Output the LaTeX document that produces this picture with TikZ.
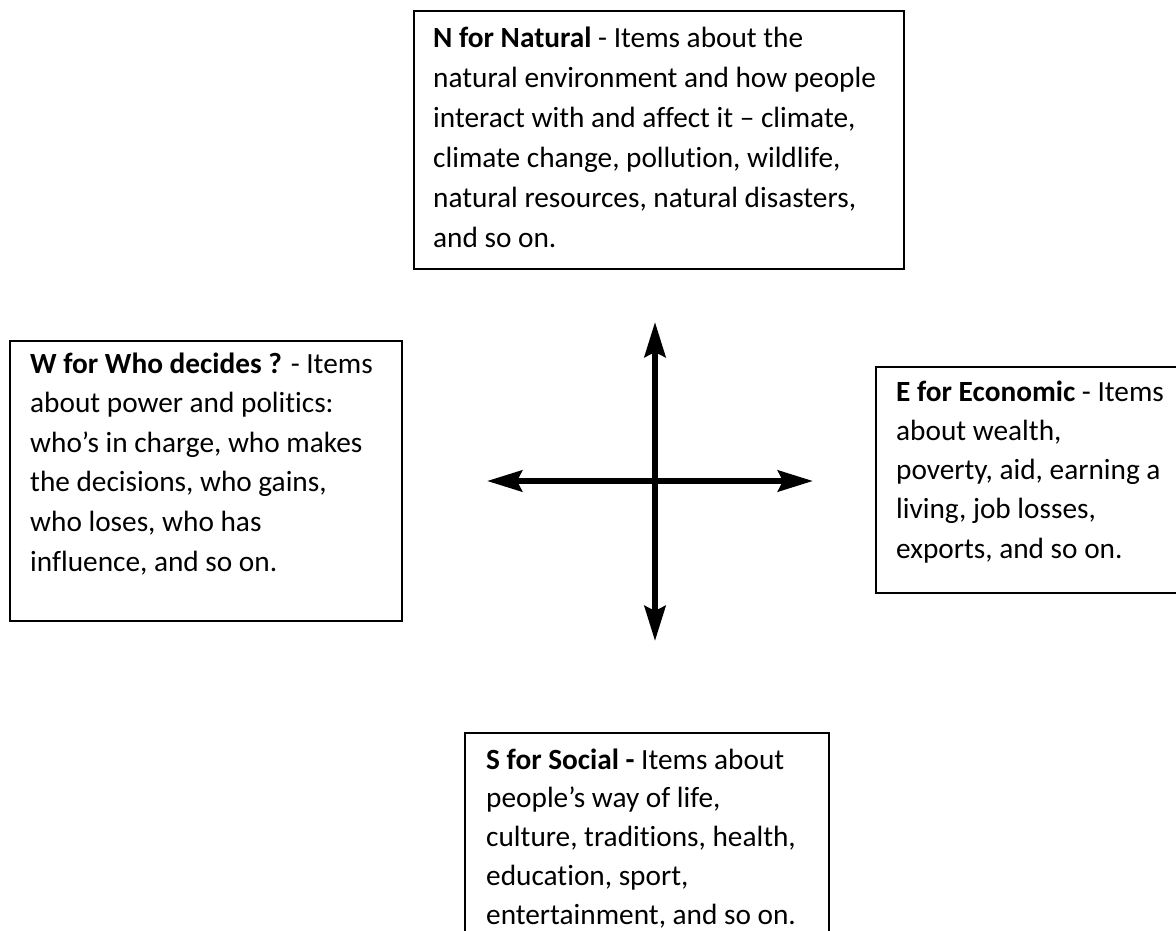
\documentclass[tikz,border=0pt]{standalone}
\usepackage{fontspec}
\setmainfont{Carlito}[Ligatures=NoCommon]
\usetikzlibrary{arrows.meta}
\tikzset{
  frame/.style={draw=black, line width=1.6pt, fill=none, inner sep=0pt, anchor=north west, rectangle},
  txt/.style={anchor=base west, inner sep=0pt, text=black},
  cross/.style={line width=6pt, {Stealth[length=35pt,width=21pt,inset=5pt]}-{Stealth[length=35pt,width=21pt,inset=5pt]}}
}
\newcommand{\boxtext}[2]{\parbox[t]{600pt}{\fontsize{29.3}{#1}\selectfont\raggedright #2}}
\begin{document}
\begin{tikzpicture}[x=1pt,y=-1pt]
\useasboundingbox (0,0) rectangle (1176,931);
% boxes
\node[frame, minimum width=490pt, minimum height=258pt] (Nbox) at (413,10) {};
\node[frame, minimum width=392pt, minimum height=280pt] (Wbox) at (9,340) {};
\node[frame, minimum width=330pt, minimum height=226pt] (Ebox) at (875,366) {};
\node[frame, minimum width=364pt, minimum height=230pt] (Sbox) at (464,732) {};
% texts
\node[txt] (Ntext) at (433,48) {\boxtext{40}{\textbf{N for Natural} - Items about the\\
natural environment and how people\\
interact with and affect it – climate,\\
climate change, pollution, wildlife,\\
natural resources, natural disasters,\\
and so on.}};
\node[txt] (Wtext) at (30,373) {\boxtext{39.6}{\textbf{W for Who decides ?} - Items\\
about power and politics:\\
who’s in charge, who makes\\
the decisions, who gains,\\
who loses, who has\\
influence, and so on.}};
\node[txt] (Etext) at (896,401) {\boxtext{39.3}{\textbf{E for Economic} - Items\\
about wealth,\\
poverty, aid, earning a\\
living, job losses,\\
exports, and so on.}};
\node[txt] (Stext) at (486,769) {\boxtext{38.8}{\textbf{S for Social -} Items about\\
people’s way of life,\\
culture, traditions, health,\\
education, sport,\\
entertainment, and so on.}};
% cross of arrows
\coordinate (top) at (655,322);
\coordinate (bottom) at (655,641);
\coordinate (left) at (487,481);
\coordinate (right) at (813,481);
\draw[cross] (left) -- (right);
\draw[cross] (top) -- (bottom);
\end{tikzpicture}
\end{document}
